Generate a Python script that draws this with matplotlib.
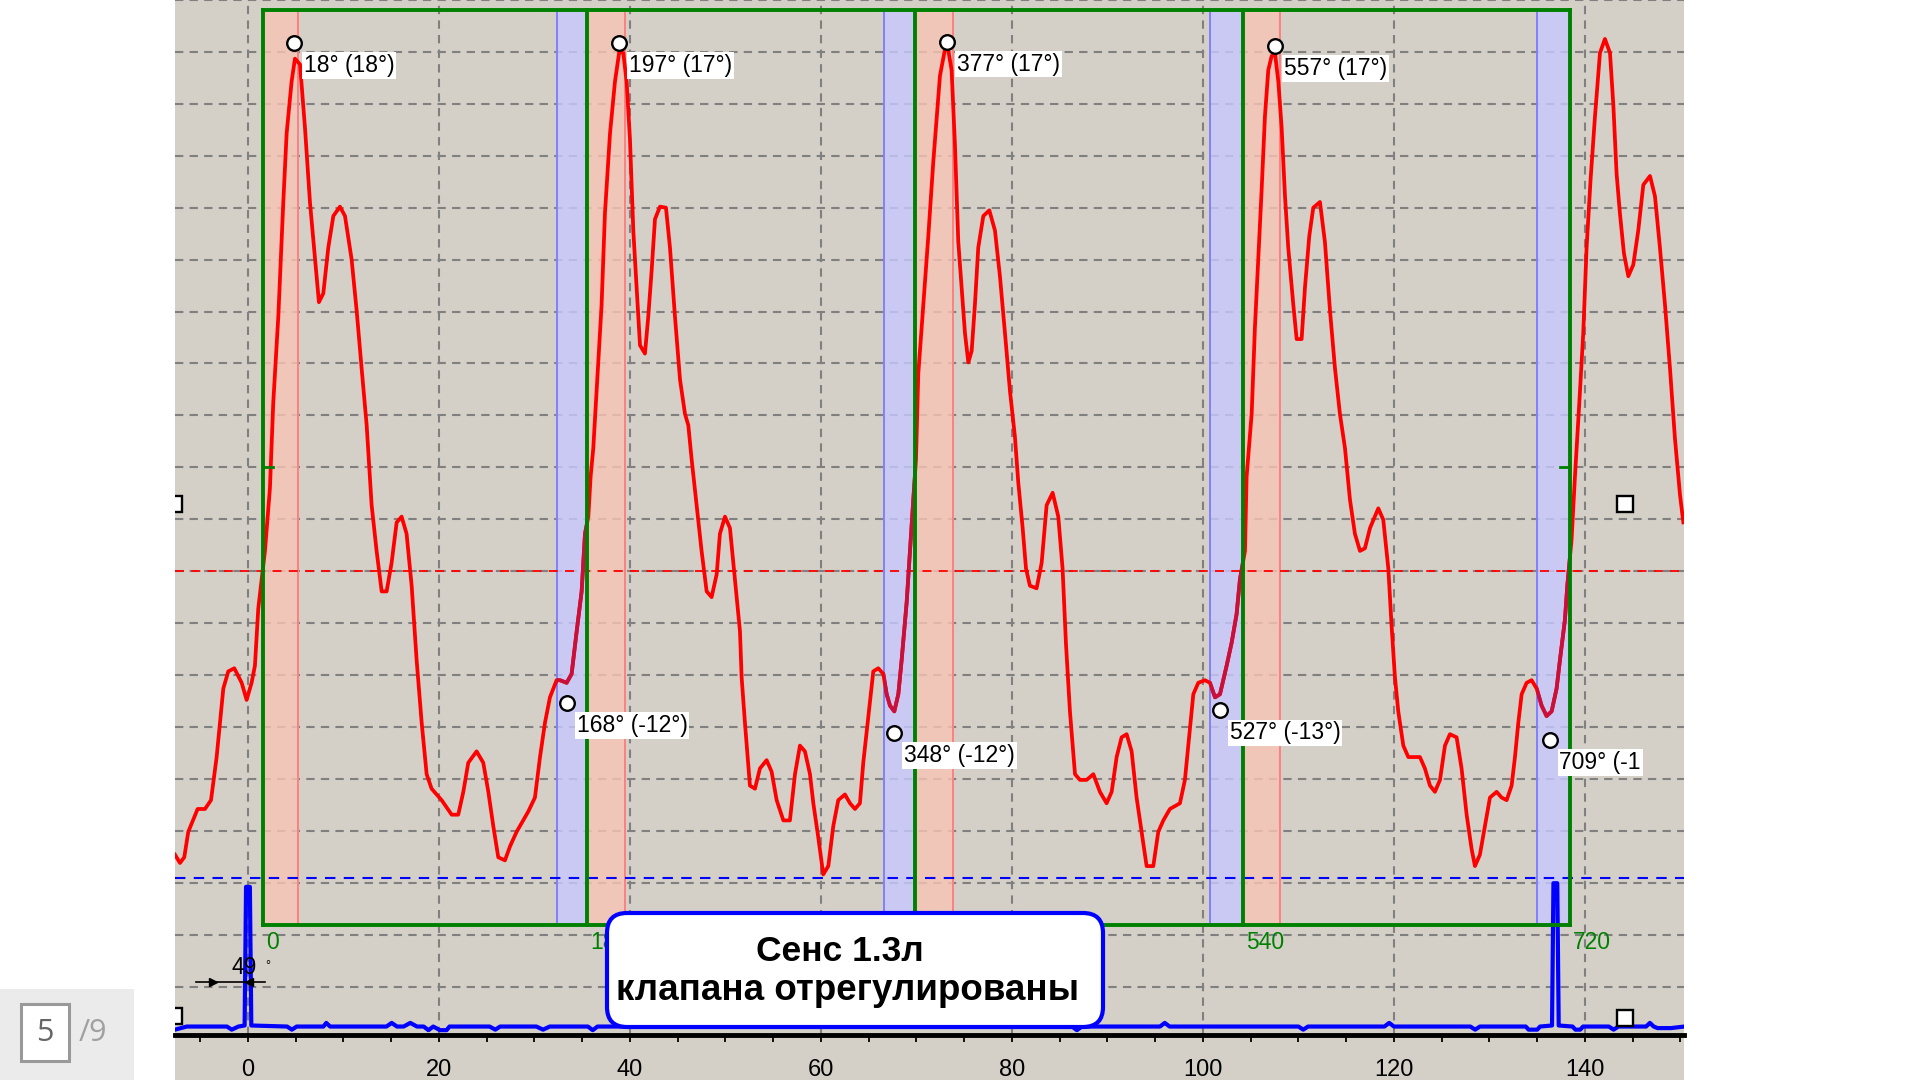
# -*- coding: utf-8 -*-
import numpy as np
import matplotlib
matplotlib.use('Agg')
import matplotlib.pyplot as plt
from matplotlib import font_manager
from matplotlib.patches import Rectangle, FancyBboxPatch
from matplotlib.transforms import IdentityTransform

# ---- data ----
# main pressure trace (red)
curve_x = [-7.64, -7.12, -6.67, -6.25, -5.27, -4.50, -3.87, -3.28, -2.58, -2.06, -1.43, -0.66, -0.14, 0.38, 0.73,
           1.08, 1.36, 1.78, 2.30, 2.65, 3.18, 3.70, 4.05, 4.57, 4.92, 5.45, 5.97, 6.49, 7.02, 7.43, 7.89, 8.41,
           8.94, 9.63, 10.16, 10.85, 11.38, 11.90, 12.43, 12.95, 13.47, 14.00, 14.52, 15.04, 15.57, 16.09, 16.61,
           17.14, 17.66, 18.19, 18.71, 19.23, 20.28, 21.33, 22.02, 22.55, 23.07, 23.94, 24.64, 25.17, 25.69,
           26.21, 26.91, 27.44, 28.13, 29.35, 30.05, 30.58, 31.10, 31.62, 32.32,
           32.67, 33.37, 33.89, 34.42, 34.94, 35.29, 35.64, 35.88, 36.16, 36.51, 37.03, 37.38, 37.91, 38.43,
           38.88, 39.30, 39.65, 40.00, 40.35, 40.70, 41.05, 41.57, 41.92, 42.27, 42.62, 43.14, 43.77, 44.19,
           44.71, 45.24, 45.76, 46.11, 46.46, 46.98, 47.50, 48.03, 48.55, 49.08, 49.42, 49.95, 50.47, 50.99,
           51.52, 51.69, 52.04, 52.56, 53.09, 53.61, 54.31, 54.83, 55.36, 56.06, 56.75, 57.28, 57.80, 58.32,
           58.85, 59.20, 59.72, 60.24, 60.77, 61.29, 61.81, 62.51, 63.04, 63.56, 64.08, 64.43, 64.96, 65.48,
           66.00, 66.53, 66.88, 67.23, 67.68, 68.10, 68.45, 68.97, 69.32, 69.67, 69.95, 70.19, 70.72, 71.24,
           71.76, 72.46,
           73.16, 73.68, 74.03, 74.38, 74.73, 75.08, 75.43, 75.78, 76.12, 76.47, 77.00, 77.63, 78.22, 78.74,
           79.27, 79.79, 80.31, 80.66, 81.12, 81.47, 81.88, 82.58, 83.11, 83.63, 84.26, 84.85, 85.30, 85.65,
           86.07, 86.60, 87.12, 87.82, 88.52, 89.21, 89.91, 90.44, 90.96, 91.48, 92.01, 92.53, 93.05, 93.58,
           94.10, 94.80, 95.32, 95.85, 96.54, 97.59, 98.11, 98.46, 98.99, 99.51, 100.21, 100.73, 101.26,
           101.78, 102.48, 103.00, 103.52, 103.87, 104.40, 104.57, 105.10, 105.44, 105.79, 106.14, 106.49,
           106.84, 107.19, 107.54, 107.89, 108.24, 108.59, 108.93, 109.46, 109.81, 110.33, 110.68, 111.13,
           111.55,
           112.25, 112.77, 113.30, 113.82, 114.34, 114.87, 115.39, 115.91, 116.44, 116.96, 117.49, 118.36,
           118.88, 119.41, 119.75, 120.10, 120.45, 120.98, 121.50, 122.72, 123.24, 123.77, 124.29, 124.82,
           125.34, 125.86, 126.56, 127.08, 127.61, 128.13, 128.48, 129.00, 129.53, 130.05, 130.75, 131.27,
           131.80, 132.32, 132.67, 133.02, 133.37, 133.89, 134.41, 134.94, 135.46, 135.98, 136.51, 137.03,
           137.38, 137.90, 138.15, 138.60, 138.95, 139.41, 139.82, 140.17, 140.59, 141.05, 141.57, 142.09,
           142.62, 142.97, 143.31, 143.66, 144.08, 144.54, 145.06, 145.58, 146.11, 146.81, 147.33, 147.85,
           148.38, 148.90, 149.42, 149.95, 150.30]
curve_y = [3.54, 3.38, 3.49, 3.98, 4.42, 4.42, 4.59, 5.42, 6.74, 7.07, 7.13, 6.85, 6.52, 6.85, 7.18,
           8.28, 8.72, 9.39, 10.60, 12.25, 13.91, 16.11, 17.43, 18.43, 18.87, 18.76, 17.54, 16.11, 15.01, 14.18,
           14.35, 15.23, 15.84, 16.02, 15.84, 15.01, 14.02, 12.91, 11.81, 10.27, 9.39, 8.61, 8.61, 9.16, 9.94,
           10.05, 9.72, 8.72, 7.29, 6.08, 5.09, 4.81, 4.59, 4.31, 4.31, 4.75, 5.31, 5.53, 5.31, 4.75, 4.09,
           3.49, 3.43, 3.70, 3.98, 4.37, 4.64, 5.42, 6.08, 6.57, 6.90,
           6.90, 6.85, 7.02, 7.84, 8.61, 9.72, 10.05, 10.82, 11.37, 12.47, 14.13, 15.89, 17.43, 18.43,
           19.00, 18.98, 18.43, 17.32, 15.56, 14.46, 13.35, 13.19, 13.91, 14.79, 15.78, 16.02, 16.00, 15.23,
           13.91, 12.69, 12.03, 11.81, 11.15, 10.27, 9.39, 8.61, 8.50, 8.94, 9.72, 10.05, 9.83, 8.84,
           7.84, 6.96, 6.08, 4.87, 4.81, 5.20, 5.36, 5.14, 4.59, 4.20, 4.20, 5.09, 5.64, 5.53,
           5.09, 4.53, 3.87, 3.16, 3.32, 4.09, 4.59, 4.70, 4.53, 4.42, 4.53, 5.31, 6.19, 7.07,
           7.13, 7.02, 6.63, 6.41, 6.30, 6.63, 7.29, 8.39, 9.39, 10.38, 11.15, 12.80, 14.13, 15.45,
           16.88, 18.54,
           19.22, 18.65, 17.21, 15.34, 14.46, 13.58, 13.02, 13.24, 14.13, 15.23, 15.84, 15.95, 15.56, 14.68,
           13.58, 12.47, 11.59, 10.71, 9.83, 9.05, 8.72, 8.67, 9.16, 10.27, 10.51, 10.05, 9.05, 7.62,
           6.30, 5.09, 4.98, 4.98, 5.09, 4.75, 4.53, 4.75, 5.42, 5.80, 5.86, 5.53, 4.64, 3.98,
           3.32, 3.32, 3.98, 4.20, 4.42, 4.53, 4.98, 5.64, 6.63, 6.85, 6.90, 6.85, 6.57,
           6.63, 7.18, 7.62, 8.17, 8.84, 9.39, 10.82, 12.03, 13.69, 15.01, 16.33, 17.76,
           18.65, 18.92, 18.98, 18.43, 17.54, 16.22, 15.23, 14.13, 13.47, 13.47, 14.46, 15.45,
           16.00,
           16.11, 15.34, 14.02, 12.91, 12.03, 11.37, 10.38, 9.72, 9.39, 9.44, 9.83, 10.21,
           9.99, 9.05, 7.95, 6.96, 6.30, 5.64, 5.42, 5.42, 5.20, 4.87, 4.75, 4.98,
           5.64, 5.86, 5.80, 5.20, 4.31, 3.65, 3.32, 3.54, 4.09, 4.64, 4.75, 4.64,
           4.59, 4.87, 5.42, 6.08, 6.63, 6.85, 6.90, 6.74, 6.41, 6.21, 6.30, 6.74,
           7.29, 8.06, 8.72, 9.61, 10.82, 12.25, 13.58, 15.23, 16.55, 17.76, 18.98, 19.25,
           18.98, 17.98, 16.66, 15.89, 15.12, 14.68, 14.90, 15.56, 16.44, 16.61, 16.22, 15.23,
           14.13, 12.91, 11.56, 10.47, 9.94]

# sync trace (blue) along the bottom
sync_x = [-7.64, -6.4, -2.2, -1.7, -1.0, -0.35, -0.2, 0.2, 0.35, 4.1, 4.6, 5.1, 7.9, 8.2, 8.6, 14.5, 15.05,
          15.6, 16.3, 17.0, 17.7, 18.4, 18.9, 19.4, 20.1, 20.8, 21.1, 25.3, 25.9, 26.4, 30.2, 30.9, 31.6,
          35.6, 36.1, 36.6, 84.5, 85.0, 85.5, 86.3, 86.8, 87.3, 95.5, 96.0, 96.5, 110.0, 110.5, 111.0,
          119.0, 119.5, 120.0, 128.0, 128.5, 129.0, 133.8, 134.1, 135.0, 135.3, 136.55, 136.7, 137.1,
          137.25, 138.7, 139.0, 139.5, 139.8, 142.5, 143.0, 143.5, 146.4, 146.8, 147.2, 147.6, 149.0, 150.4]
sync_y = [0.17, 0.23, 0.23, 0.17, 0.23, 0.25, 2.92, 2.92, 0.25, 0.23, 0.17, 0.23, 0.23, 0.30, 0.23, 0.23, 0.30,
          0.23, 0.23, 0.30, 0.23, 0.23, 0.16, 0.23, 0.16, 0.16, 0.23, 0.23, 0.17, 0.23, 0.23, 0.17, 0.23,
          0.23, 0.16, 0.23, 0.23, 0.30, 0.23, 0.23, 0.16, 0.23, 0.23, 0.30, 0.23, 0.23, 0.17, 0.23,
          0.23, 0.30, 0.23, 0.23, 0.17, 0.23, 0.23, 0.17, 0.17, 0.23, 0.25, 2.99, 2.99,
          0.25, 0.23, 0.17, 0.17, 0.23, 0.23, 0.17, 0.23, 0.23, 0.30, 0.23, 0.20, 0.20, 0.23]

# crank-angle frame (green) at 0/180/360/540/720 degrees; the 360 label sits under the caption box
frame_x = [1.6, 35.5, 69.8, 104.2, 138.4]
frame_labels = ['0', '180', '', '540', '720']
frame_bottom, frame_top = 2.18, 19.81

# shaded windows
pink_x0 = [1.6, 35.5, 69.8, 104.2]
pink_x1 = [5.27, 39.5, 73.8, 108.1]
blue_x0 = [32.4, 66.6, 100.7, 135.0]
blue_x1 = [35.5, 69.8, 104.2, 138.4]

# markers with angle labels
peak_x = [4.85, 38.9, 73.2, 107.5]
peak_y = [19.17, 19.18, 19.20, 19.12]
peak_labels = ['18° (18°)', '197° (17°)', '377° (17°)', '557° (17°)']
low_x = [33.4, 67.7, 101.8, 136.3]
low_y = [6.46, 5.89, 6.32, 5.75]
low_labels = ['168° (-12°)', '348° (-12°)', '527° (-13°)', '709° (-1']

square_x = [-7.75, 144.2, -7.75, 144.2]
square_y = [10.30, 10.29, 0.43, 0.40]

red_level = 9.0
blue_level = 3.09
xtick_vals = list(range(0, 141, 20))

BG = '#d4d0c8'
W, H = 1920, 1080

avail = {f.name for f in font_manager.fontManager.ttflist}
if 'Liberation Sans Narrow' in avail:
    NARROW, LAB_FS, TICK_FS = 'Liberation Sans Narrow', 20, 20
else:
    NARROW, LAB_FS, TICK_FS = 'Liberation Sans', 16.5, 17

fig = plt.figure(figsize=(19.2, 10.8), dpi=100)
fig.patch.set_facecolor('white')
fig.add_artist(Rectangle((175 / W, 0), 1509 / W, 1, transform=fig.transFigure,
                         facecolor=BG, edgecolor='none', zorder=0))

ax = fig.add_axes([175 / W, 45 / H, 1509 / W, 1035 / H])
ax.set_facecolor(BG)
ax.set_xlim(-7.64, 150.37)
ax.set_ylim(0.067, 19.97)

ax.set_xticks(xtick_vals)
ax.set_xticks(np.arange(-5, 151, 5), minor=True)
ax.set_yticks(range(1, 21))
ax.set_axisbelow(True)
ax.grid(True, which='major', color='#808080', lw=1.5, linestyle=(0, (4, 3)))
ax.tick_params(axis='y', left=False, labelleft=False)
ax.tick_params(axis='x', which='both', direction='out', length=5, width=1.3, color='black', pad=12)
ax.set_xticklabels([str(v) for v in xtick_vals], fontsize=TICK_FS, family=NARROW)
for s in ['left', 'right', 'top']:
    ax.spines[s].set_visible(False)
ax.spines['bottom'].set_linewidth(3.5)
ax.spines['bottom'].set_color('black')

# shaded windows
band_h = frame_top - frame_bottom
blue_patches = []
for a, b in zip(pink_x0, pink_x1):
    ax.add_patch(Rectangle((a, frame_bottom), b - a, band_h, facecolor='#f8c4b4', alpha=0.8,
                           edgecolor='none', zorder=0.8))
    ax.plot([b, b], [frame_bottom, frame_top], color='#ff8080', lw=1.4, zorder=0.9)
for a, b in zip(blue_x0, blue_x1):
    p = Rectangle((a, frame_bottom), b - a, band_h, facecolor='#c8c8ff', alpha=0.8,
                  edgecolor='none', zorder=0.8)
    ax.add_patch(p)
    blue_patches.append(p)
    ax.plot([a, a], [frame_bottom, frame_top], color='#8080ff', lw=1.4, zorder=0.9)

# level lines
ax.axhline(red_level, color='red', lw=1.3, linestyle=(0, (5, 4)), zorder=1.2)
ax.axhline(blue_level, color='blue', lw=1.5, linestyle=(0, (5, 4)), zorder=1.2)

# traces
ax.plot(curve_x, curve_y, color='red', lw=2.7, zorder=2)
for p in blue_patches:
    seg, = ax.plot(curve_x, curve_y, color='#c8103c', lw=2.7, zorder=2.1)
    seg.set_clip_path(p)
ax.plot(sync_x, sync_y, color='blue', lw=3, zorder=2)

# green frame
ax.plot([frame_x[0], frame_x[-1]], [frame_top, frame_top], color='#008000', lw=2.8, zorder=3,
        solid_capstyle='projecting')
ax.plot([frame_x[0], frame_x[-1]], [frame_bottom, frame_bottom], color='#008000', lw=2.8, zorder=3,
        solid_capstyle='projecting')
for xv, lab in zip(frame_x, frame_labels):
    ax.plot([xv, xv], [frame_bottom, frame_top], color='#008000', lw=2.8, zorder=3)
    if lab:
        ax.annotate(lab, (xv, 1.84), xytext=(2, 0), textcoords='offset points', ha='left', va='center',
                    color='#008000', fontsize=LAB_FS, family=NARROW, zorder=3)
ax.plot([frame_x[0], frame_x[0] + 1.0], [11, 11], color='#008000', lw=2, zorder=3)
ax.plot([frame_x[-1] - 1.0, frame_x[-1]], [11, 11], color='#008000', lw=2, zorder=3)

# angle markers
for xs, ys, labs in [(peak_x, peak_y, peak_labels), (low_x, low_y, low_labels)]:
    ax.plot(xs, ys, 'o', ms=10.5, mfc='white', mec='black', mew=1.7, zorder=4)
    for xv, yv, lab in zip(xs, ys, labs):
        ax.annotate(lab, (xv, yv), xytext=(7, -8), textcoords='offset points', ha='left', va='top',
                    fontsize=LAB_FS, family=NARROW, color='black', zorder=5,
                    bbox=dict(boxstyle='square,pad=0.08', fc='white', ec='none'))

ax.plot(square_x, square_y, 's', ms=11, mfc='white', mec='black', mew=1.7, zorder=4)

# 49 deg dimension
ax.plot([-5.4, 1.8], [1.087, 1.087], color='black', lw=1.2, zorder=3)
ax.plot([-3.7], [1.087], '>', ms=6, color='black', zorder=3)
ax.plot([0.1], [1.087], '<', ms=6, color='black', zorder=3)
ax.text(-0.42, 1.375, '49', ha='center', va='center', fontsize=LAB_FS, family=NARROW, color='black', zorder=3)
ax.text(2.1, 1.40, '°', ha='center', va='center', fontsize=9, family=NARROW, color='black', zorder=3)

# caption box
px = IdentityTransform()
fig.add_artist(FancyBboxPatch((607, 53), 496, 114, boxstyle='round,pad=0,rounding_size=20',
                              transform=px, facecolor='white', edgecolor='blue', lw=3, zorder=6))
fig.text(840, 119, 'Сенс 1.3л', transform=px, ha='center', va='baseline', fontsize=25.5,
         fontweight='bold', family='Liberation Sans', color='black', zorder=7)
fig.text(848, 80, 'клапана отрегулированы', transform=px, ha='center', va='baseline', fontsize=26.5,
         fontweight='bold', family='Liberation Sans', color='black', zorder=7)

# slide counter
fig.add_artist(Rectangle((0, 0), 134, 91, transform=px, facecolor='#ebebeb', edgecolor='none', zorder=6))
fig.add_artist(Rectangle((21, 19), 48, 57, transform=px, facecolor='white', edgecolor='#999999',
                         lw=2.2, zorder=7))
fig.text(45, 47, '5', transform=px, ha='center', va='center', fontsize=22, family='Open Sans',
         color='#666666', zorder=8)
fig.text(79, 47, '/9', transform=px, ha='left', va='center', fontsize=22, family='Open Sans',
         color='#a0a0a0', zorder=8)

fig.savefig('out.png', dpi=100, facecolor='white')
